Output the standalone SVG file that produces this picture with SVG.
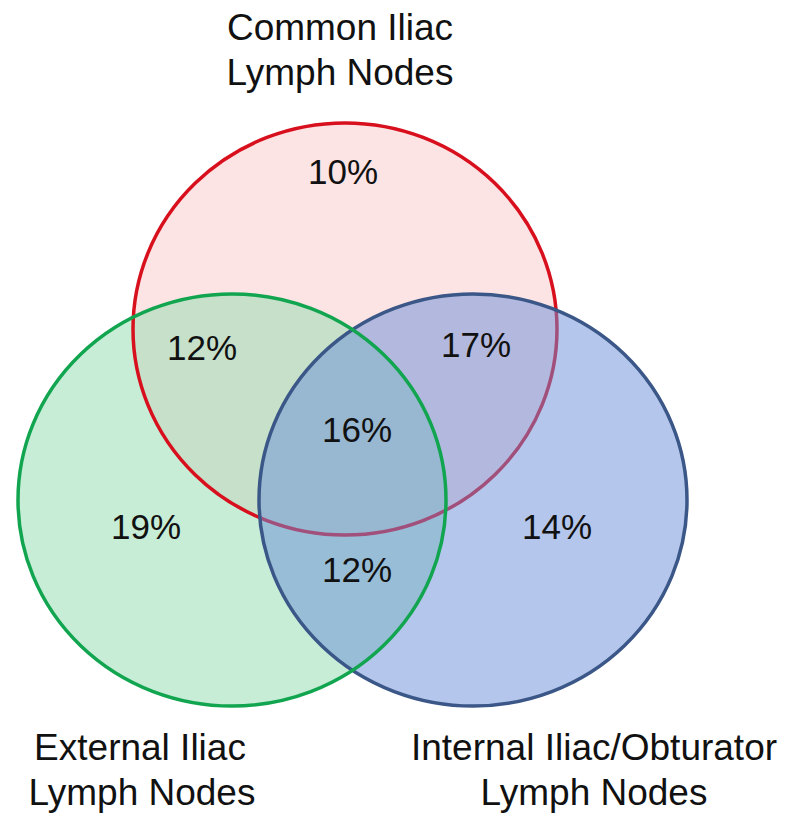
<svg xmlns="http://www.w3.org/2000/svg" width="800" height="835" viewBox="0 0 800 835">
<style>
text{font-family:"Liberation Sans",Arial,sans-serif;fill:#111;text-anchor:middle}
.lbl{font-size:37px}
.pct{font-size:35px}
</style>
<rect width="800" height="835" fill="#fff"/>
<g id="common-iliac-fill">
<ellipse cx="345" cy="329" rx="212" ry="206" fill="#fce4e4"/>
</g>
<g id="external-iliac-fill">
<ellipse cx="232" cy="500" rx="214" ry="206" fill="#8fdcb0" fill-opacity="0.5"/>
</g>
<g id="common-iliac">
<ellipse cx="345" cy="329" rx="212" ry="206" fill="none" stroke="#d8101e" stroke-width="3.5"/>
</g>
<g id="internal-iliac">
<ellipse cx="473" cy="500" rx="214" ry="206" fill="#6a8ed8" fill-opacity="0.5" stroke="#3a5788" stroke-width="3.5"/>
</g>
<g id="external-iliac">
<ellipse cx="232" cy="500" rx="214" ry="206" fill="none" stroke="#12a550" stroke-width="3.5"/>
</g>
<g id="labels">
<text class="lbl" x="340" y="40">Common Iliac</text>
<text class="lbl" x="340" y="85">Lymph Nodes</text>
<text class="lbl" x="140" y="760">External Iliac</text>
<text class="lbl" x="142" y="805">Lymph Nodes</text>
<text class="lbl" x="594" y="760">Internal Iliac/Obturator</text>
<text class="lbl" x="594" y="805">Lymph Nodes</text>
</g>
<g id="values">
<text class="pct" x="343" y="184">10%</text>
<text class="pct" x="202" y="360">12%</text>
<text class="pct" x="476" y="357">17%</text>
<text class="pct" x="357" y="442">16%</text>
<text class="pct" x="146" y="539">19%</text>
<text class="pct" x="557" y="539">14%</text>
<text class="pct" x="357" y="582">12%</text>
</g>
</svg>
